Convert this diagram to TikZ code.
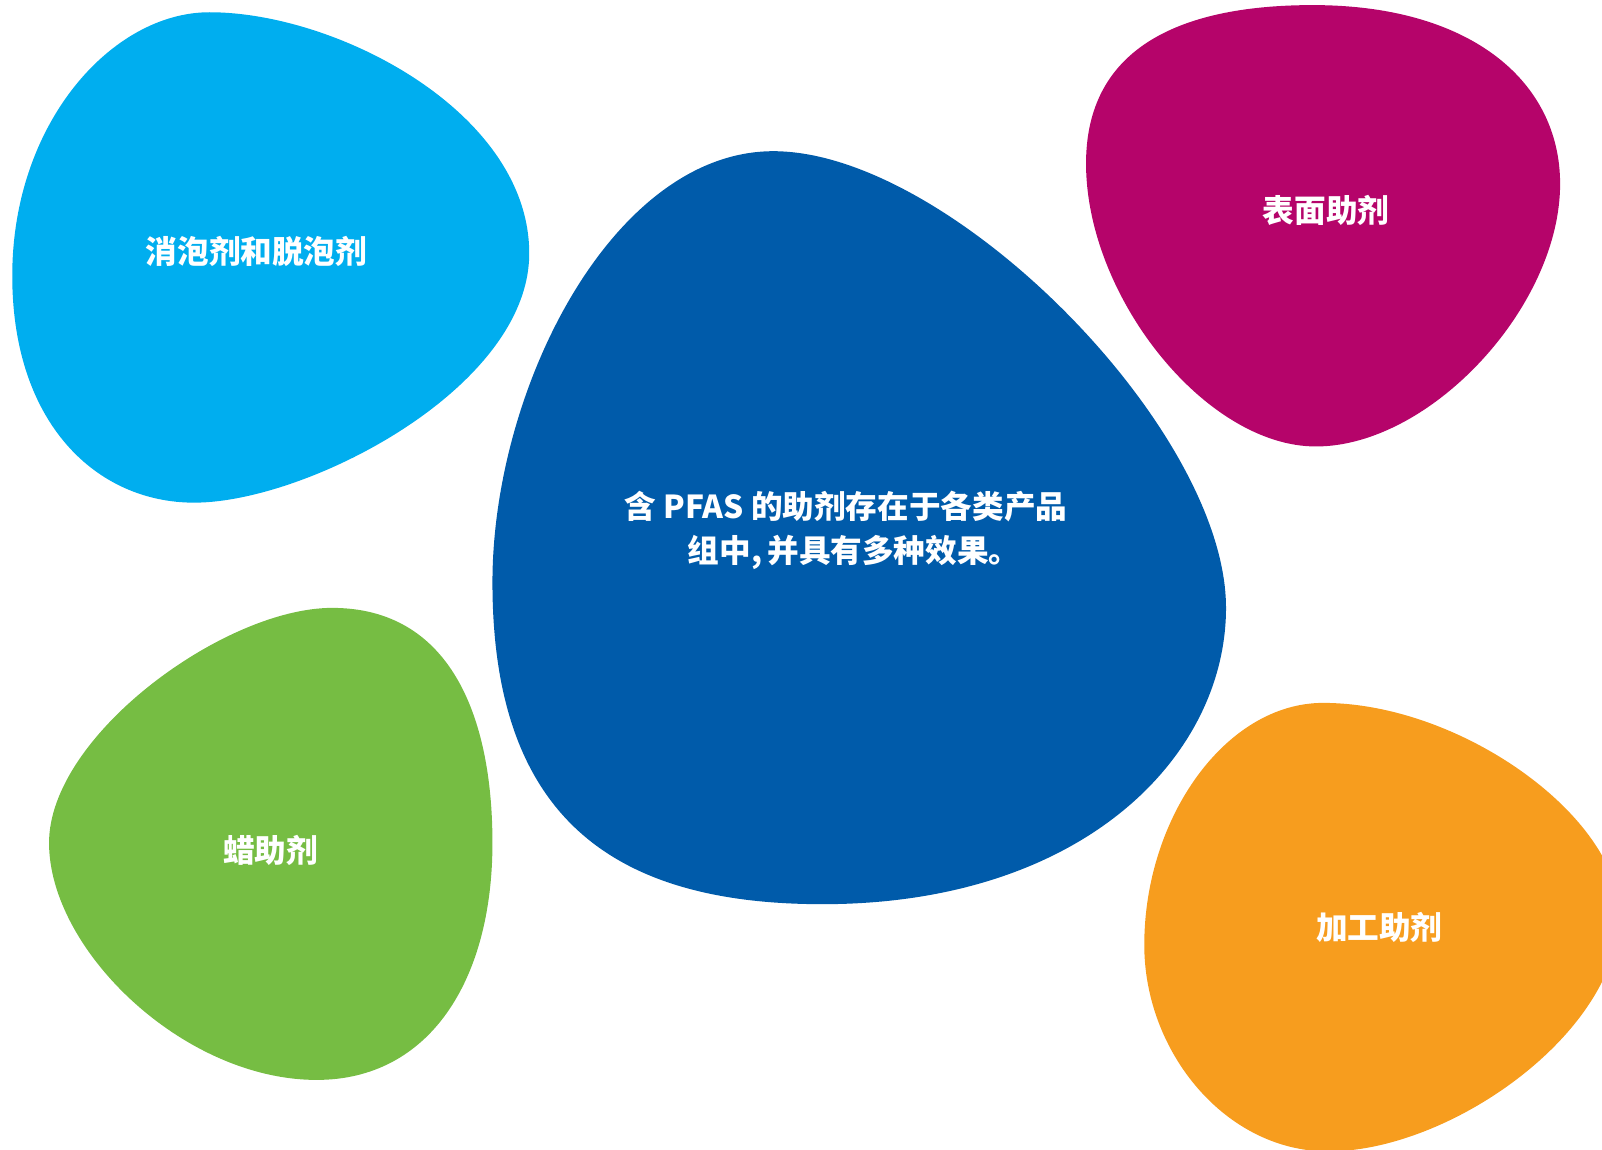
\documentclass[tikz,border=0pt]{standalone}
\usepackage{fontspec}
\newfontfamily\cjk{Noto Sans CJK SC}
\definecolor{cLightBlue}{RGB}{0,174,239}
\definecolor{cDarkBlue}{RGB}{0,91,170}
\definecolor{cMagenta}{RGB}{181,4,106}
\definecolor{cGreen}{RGB}{118,189,67}
\definecolor{cOrange}{RGB}{247,157,30}
\begin{document}
\begin{tikzpicture}[x=0.01cm,y=-0.01cm,
  blob/.style={draw=none},
  lbl/.style={text=white, font=\cjk\bfseries\fontsize{8.8}{12.2}\selectfont, align=center, inner sep=0pt}]
\useasboundingbox (0,0) rectangle (1568,1125);
\clip (0,0) rectangle (1568,1125);
% light blue
\fill[blob, cLightBlue] (205,12) .. controls (330,12) and (518,110) .. (518,248)
  .. controls (518,380) and (300,492) .. (190,492)
  .. controls (95,492) and (12,415) .. (12,270)
  .. controls (12,120) and (110,12) .. (205,12) -- cycle;
% dark blue
\fill[blob, cDarkBlue] (757,148) .. controls (930,148) and (1200,420) .. (1200,595)
  .. controls (1200,740) and (1060,885) .. (805,885)
  .. controls (600,885) and (482,800) .. (482,570)
  .. controls (482,380) and (600,148) .. (757,148) -- cycle;
% magenta
\fill[blob, cMagenta] (1285,5) .. controls (1440,5) and (1527,80) .. (1527,180)
  .. controls (1527,300) and (1400,437) .. (1288,437)
  .. controls (1180,437) and (1063,290) .. (1063,160)
  .. controls (1063,50) and (1150,5) .. (1285,5) -- cycle;
% green
\fill[blob, cGreen] (325,595) .. controls (440,595) and (482,700) .. (482,825)
  .. controls (482,960) and (420,1057) .. (310,1057)
  .. controls (180,1057) and (48,930) .. (48,825)
  .. controls (48,720) and (220,595) .. (325,595) -- cycle;
% orange
\fill[blob, cOrange] (1295,688) .. controls (1430,688) and (1585,800) .. (1585,895)
  .. controls (1585,1010) and (1420,1127) .. (1300,1127)
  .. controls (1200,1127) and (1120,1030) .. (1120,925)
  .. controls (1120,800) and (1200,688) .. (1295,688) -- cycle;
\node[lbl] (defoam) at (251,246) {消泡剂和脱泡剂};
\node[lbl] (surface) at (1298,206) {表面助剂};
\node[lbl] (center) at (828,519) {含 PFAS 的助剂存在于各类产品\\\hspace*{0.16cm}组中,\,并具有多种效果。};
\node[lbl] (wax) at (265,832) {蜡助剂};
\node[lbl] (process) at (1350,908) {加工助剂};
\end{tikzpicture}
\end{document}
